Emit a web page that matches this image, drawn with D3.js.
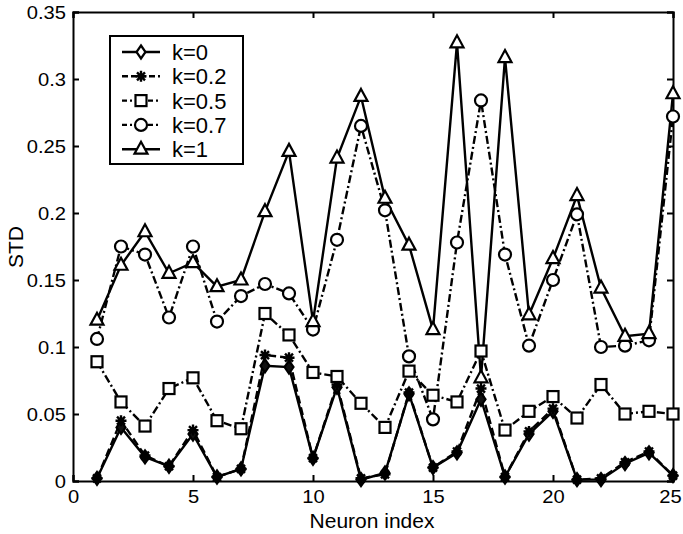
<!DOCTYPE html>
<html><head><meta charset="utf-8">
<script src="https://cdn.jsdelivr.net/npm/d3@7"></script>
<style>body{margin:0;background:#fff}svg{display:block}text{font-family:"Liberation Sans",Arial,sans-serif}</style>
</head><body><svg id="c" width="683" height="534"></svg>
<script>
const neurons = d3.range(1, 26);
const seriesNames = ["k=0", "k=0.2", "k=0.5", "k=0.7", "k=1"];
const k0  = [0.002,0.040,0.018,0.011,0.035,0.003,0.009,0.086,0.085,0.017,0.070,0.001,0.006,0.065,0.010,0.021,0.061,0.003,0.035,0.052,0.001,0.001,0.013,0.021,0.004];
const k02 = [0.002,0.045,0.019,0.011,0.038,0.003,0.009,0.094,0.092,0.017,0.072,0.002,0.005,0.066,0.010,0.022,0.069,0.003,0.037,0.054,0.001,0.002,0.014,0.022,0.004];
const k05 = [0.089,0.059,0.041,0.069,0.077,0.045,0.039,0.125,0.109,0.081,0.078,0.058,0.040,0.082,0.064,0.059,0.097,0.038,0.052,0.063,0.047,0.072,0.050,0.052,0.050];
const k07 = [0.106,0.175,0.169,0.122,0.175,0.119,0.138,0.147,0.140,0.113,0.180,0.265,0.202,0.093,0.046,0.178,0.284,0.169,0.101,0.150,0.199,0.100,0.101,0.105,0.272];
const k1  = [0.120,0.161,0.186,0.155,0.163,0.145,0.150,0.201,0.246,0.119,0.241,0.287,0.211,0.176,0.113,0.327,0.077,0.316,0.124,0.166,0.213,0.144,0.108,0.110,0.289];
const xTicks = [0,5,10,15,20,25];
const yTicks = [0,0.05,0.1,0.15,0.2,0.25,0.3,0.35];

const svg = d3.select("#c");
const L=73, R=673, T=12, B=481;
const x = d3.scaleLinear().domain([0,25]).range([L,R]);
const y = d3.scaleLinear().domain([0,0.35]).range([B,T]);
const SX = 1.12;

const styles = [
  {data:k0,  dash:null,        ldash:null,      marker:"diamond"},
  {data:k02, dash:"8,4",       ldash:"6,3",     marker:"star"},
  {data:k05, dash:"8,3,2,3",   ldash:"5,3,2,3", marker:"square"},
  {data:k07, dash:"8,3,2,3",   ldash:"5,3,2,3", marker:"circle"},
  {data:k1,  dash:null,        ldash:null,      marker:"triangle"}
];

function drawMarker(g, type, cx, cy, legend){
  const s = g.append("g").attr("transform",`translate(${cx},${cy})`);
  let el;
  if(type==="diamond"){
    s.append("path").attr("d","M0,-6.5L4.5,0L0,6.5L-4.5,0Z").attr("fill", legend?"#fff":"#111").attr("stroke","#000").attr("stroke-width",2.2);
    return;
  }
  if(type==="star"){
    s.append("path").attr("d","M0,-5.5V5.5M-5.5,0H5.5M-4,-4L4,4M-4,4L4,-4").attr("stroke","#000").attr("stroke-width",2.4);
    return;
  }
  if(type==="square") el = s.append("rect").attr("x",-5.5).attr("y",-5.5).attr("width",11).attr("height",11);
  if(type==="circle") el = s.append("circle").attr("r",6);
  if(type==="triangle") el = s.append("path").attr("d","M0,-7.5L6.5,4.5L-6.5,4.5Z");
  el.attr("stroke","#000").attr("stroke-width",2.2).attr("fill","#fff");
}

// axes box with inward ticks
const axB = d3.axisBottom(x).tickValues(xTicks).tickSize(-6).tickFormat(d3.format("d"));
const axL = d3.axisLeft(y).tickValues(yTicks).tickSize(-6).tickFormat(d=>d===0?"0":d3.format(".2~f")(d));
const axT = d3.axisTop(x).tickValues(xTicks).tickSize(-6).tickFormat("");
const axR = d3.axisRight(y).tickValues(yTicks).tickSize(-6).tickFormat("");
function styleAxis(g){g.selectAll("path,line").attr("stroke","#000").attr("stroke-width",2);g.selectAll("text").attr("fill","#000").attr("font-size",18).attr("font-family","Liberation Sans, Arial, sans-serif");}
svg.append("g").attr("transform",`translate(0,${B})`).call(axB).call(styleAxis)
  .selectAll("text").attr("y",22).attr("dy",0).attr("transform",`scale(${SX},1)`)
  .attr("x",d=>d===25?-3/SX:0);
svg.append("g").attr("transform",`translate(${L},0)`).call(axL).call(styleAxis)
  .selectAll("text").attr("x",-7/SX).attr("dy","0.36em").attr("transform",`scale(${SX},1)`);
svg.append("g").attr("transform",`translate(0,${T})`).call(axT).call(styleAxis);
svg.append("g").attr("transform",`translate(${R},0)`).call(axR).call(styleAxis);

const line = d3.line().x((d,i)=>x(neurons[i])).y(d=>y(d));
styles.forEach(s=>{
  svg.append("path").attr("d",line(s.data)).attr("fill","none").attr("stroke","#000").attr("stroke-width",2.4).attr("stroke-dasharray",s.dash);
});
styles.forEach(s=>{
  const g = svg.append("g");
  s.data.forEach((d,i)=>drawMarker(g,s.marker,x(neurons[i]),y(d),false));
});

// labels
svg.append("text").attr("x",372).attr("y",528).attr("text-anchor","middle").attr("font-size",21).text("Neuron index");
svg.append("text").attr("transform",`translate(23,247) rotate(-90)`).attr("text-anchor","middle").attr("font-size",21).text("STD");

// legend
const lg = svg.append("g");
lg.append("rect").attr("x",110).attr("y",36).attr("width",133).attr("height",128).attr("fill","#fff").attr("stroke","#000").attr("stroke-width",2);
styles.forEach((s,i)=>{
  const yy = 52 + i*24.3;
  lg.append("line").attr("x1",122).attr("x2",160).attr("y1",yy).attr("y2",yy).attr("stroke","#000").attr("stroke-width",2.4).attr("stroke-dasharray",s.ldash);
  drawMarker(lg, s.marker, 141, yy, true);
  lg.append("text").attr("x",172).attr("y",yy+8).attr("font-size",22).text(seriesNames[i]);
});
</script></body></html>
